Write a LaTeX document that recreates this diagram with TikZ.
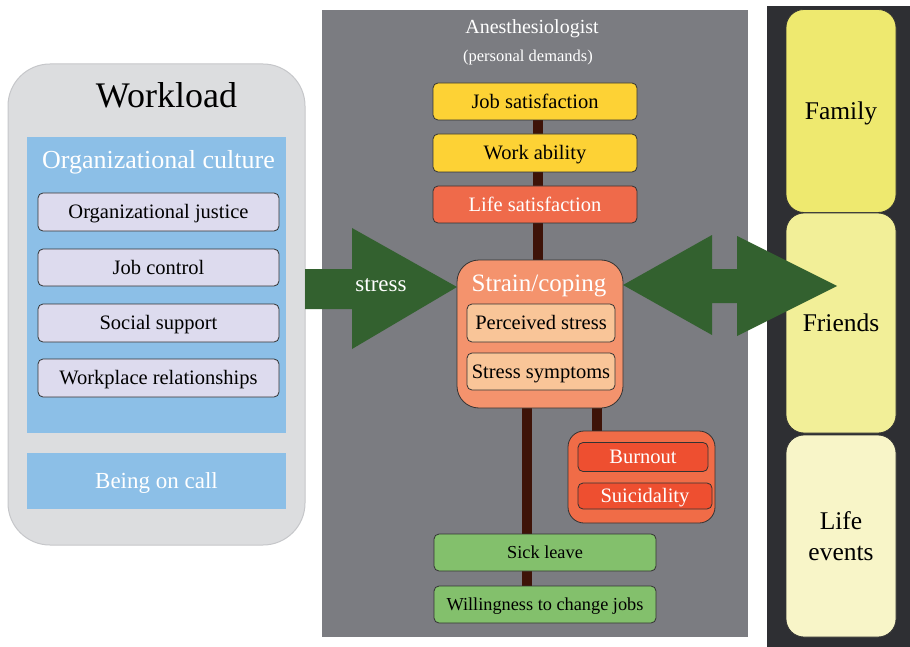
\documentclass[tikz,border=0pt]{standalone}
\usepackage{fontspec}
\setmainfont{LiberationSerif}[Extension=.ttf, UprightFont=*-Regular, BoldFont=*-Bold, ItalicFont=*-Italic, BoldItalicFont=*-BoldItalic]
\usetikzlibrary{calc}
\pgfdeclarelayer{back}
\pgfdeclarelayer{mid}
\pgfsetlayers{back,mid,main}
\definecolor{panelgray}{HTML}{DCDDDF}
\definecolor{panelborder}{HTML}{C6C7CA}
\definecolor{cultblue}{HTML}{8CBFE7}
\definecolor{lavender}{HTML}{DDDBEE}
\definecolor{centergray}{HTML}{7B7C81}
\definecolor{jobyellow}{HTML}{FDD235}
\definecolor{lifered}{HTML}{EF6A4A}
\definecolor{strainfill}{HTML}{F4936D}
\definecolor{strainlight}{HTML}{F9C598}
\definecolor{burnfill}{HTML}{F06C47}
\definecolor{burninner}{HTML}{EE4F30}
\definecolor{sickgreen}{HTML}{83C06C}
\definecolor{arrowgreen}{HTML}{33612F}
\definecolor{barbrown}{HTML}{3E1308}
\definecolor{darkpanel}{HTML}{2E2F33}
\definecolor{famyellow}{HTML}{EEE96F}
\definecolor{friendyellow}{HTML}{F2EF98}
\definecolor{lifeyellow}{HTML}{F8F5C8}
\definecolor{boxline}{HTML}{333333}
\begin{document}
\begin{tikzpicture}[x=1pt,y=-1pt,
  panel/.style={inner sep=0pt, outer sep=0pt},
  lbox/.style={draw=boxline, line width=0.8pt, rounded corners=5pt, inner sep=0pt,
    text height=13.4pt, text depth=0pt, font=\fontsize{20.5}{24}\selectfont},
  gbox/.style={lbox, fill=sickgreen, minimum width=222, minimum height=37,
    text height=12pt, font=\fontsize{18.3}{22}\selectfont},
  sidebox/.style={draw=boxline, line width=0.8pt, rounded corners=18pt, inner sep=0pt,
    minimum width=110, font=\fontsize{25.5}{31}\selectfont, align=center},
  capmid/.style={text height=16.7pt, text depth=0pt},
  bar/.style={draw=barbrown, line width=10pt},
  bigarrow/.style={fill=arrowgreen}
]
\useasboundingbox (0,0) rectangle (910,647);
\begin{pgfonlayer}{back}
  \fill[white] (0,0) rectangle (910,647);
  \node[panel, fill=panelgray, draw=panelborder, line width=1pt, rounded corners=42pt,
    minimum width=297, minimum height=481] (workpanel) at (156.5,304.5) {};
  \node[panel, fill=cultblue, minimum width=259, minimum height=296] (orgcult) at (156.5,285) {};
  \node[panel, fill=centergray, minimum width=426, minimum height=627] (anesth) at (535,323.5) {};
  \node[panel, fill=darkpanel, minimum width=143, minimum height=641] (sidepanel) at (838.5,326.5) {};
\end{pgfonlayer}

% left panel
\node[anchor=base, font=\fontsize{36}{40}\selectfont] (workload) at (166.5,108) {Workload};
\node[anchor=base, text=white, font=\fontsize{26}{30}\selectfont] (culttitle) at (158.5,169) {Organizational culture};
\node[lbox, fill=lavender, minimum width=241, minimum height=38] (orgjust) at (158.5,212) {Organizational justice};
\node[lbox, fill=lavender, minimum width=241, minimum height=37] (jobctrl) at (158.5,267.5) {Job control};
\node[lbox, fill=lavender, minimum width=241, minimum height=38] (social) at (158.5,323) {Social support};
\node[lbox, fill=lavender, minimum width=241, minimum height=38] (workrel) at (158.5,378) {Workplace relationships};
\node[panel, fill=cultblue, minimum width=259, minimum height=56, text=white,
  text height=15.1pt, text depth=0pt, font=\fontsize{23}{27}\selectfont] (oncall) at (156.5,481) {Being on call};

% centre panel
\node[anchor=base, text=white, font=\fontsize{20}{24}\selectfont] (anesthtitle) at (532,34) {Anesthesiologist};
\node[anchor=base, text=white, font=\fontsize{16.5}{20}\selectfont] (personal) at (528,62) {(personal demands)};
\node[lbox, fill=jobyellow, minimum width=204, minimum height=37] (jobsat) at (535,101.5) {Job satisfaction};
\node[lbox, fill=jobyellow, minimum width=204, minimum height=38] (workab) at (535,153) {Work ability};
\node[lbox, fill=lifered, text=white, minimum width=204, minimum height=37] (lifesat) at (535,204.5) {Life satisfaction};

\node[panel, draw=boxline, line width=0.8pt, fill=strainfill, rounded corners=22pt,
  minimum width=166, minimum height=148] (strain) at (540,334) {};
\node[anchor=base, text=white, font=\fontsize{25}{29}\selectfont] (straintitle) at (539,291) {Strain/coping};
\node[lbox, fill=strainlight, minimum width=148, minimum height=38] (percstress) at (541,323) {Perceived stress};
\node[lbox, fill=strainlight, minimum width=148, minimum height=37] (stresssym) at (541,371.5) {Stress symptoms};

\node[panel, draw=boxline, line width=0.8pt, fill=burnfill, rounded corners=16pt,
  minimum width=147, minimum height=92] (burngroup) at (641.5,477) {};
\node[lbox, fill=burninner, text=white, minimum width=130, minimum height=29] (burnout) at (643,457) {Burnout};
\node[lbox, fill=burninner, text=white, minimum width=134, minimum height=26] (suicid) at (645,496) {Suicidality};

\node[gbox] (sick) at (545,552.5) {Sick leave};
\node[gbox] (willing) at (545,604.5) {Willingness to change jobs};

% right panel
\node[sidebox, capmid, fill=famyellow, minimum height=203] (family) at (841,111) {Family};
\node[sidebox, capmid, fill=friendyellow, minimum height=220] (friends) at (841,323) {Friends};
\node[sidebox, fill=lifeyellow, minimum height=202] (lifeev) at (841,536) {Life\\events};

% connecting bars
\begin{pgfonlayer}{mid}
  \draw[bar] ($(jobsat.south)+(3,0)$) -- ($(strain.center)+(-2,0)$);
  \draw[bar] ($(strain.center)+(-13,0)$) -- ($(willing.center)+(-18,0)$);
  \draw[bar] ($(strain.center)+(57,0)$) -- ($(burngroup.center)+(-44.5,0)$);
\end{pgfonlayer}

% big arrows
\fill[bigarrow] (305,269) -- (352,269) -- (352,228) -- (457,287) -- (352,349) -- (352,309) -- (305,309) -- cycle;
\node[anchor=base, text=white, font=\fontsize{23}{27}\selectfont] (stresslbl) at (381,291.5) {stress};
\fill[bigarrow] (623,285) -- (712,235) -- (712,269) -- (737,269) -- (737,236) -- (837,286)
  -- (737,336) -- (737,303) -- (712,303) -- (712,335) -- cycle;
\end{tikzpicture}
\end{document}
